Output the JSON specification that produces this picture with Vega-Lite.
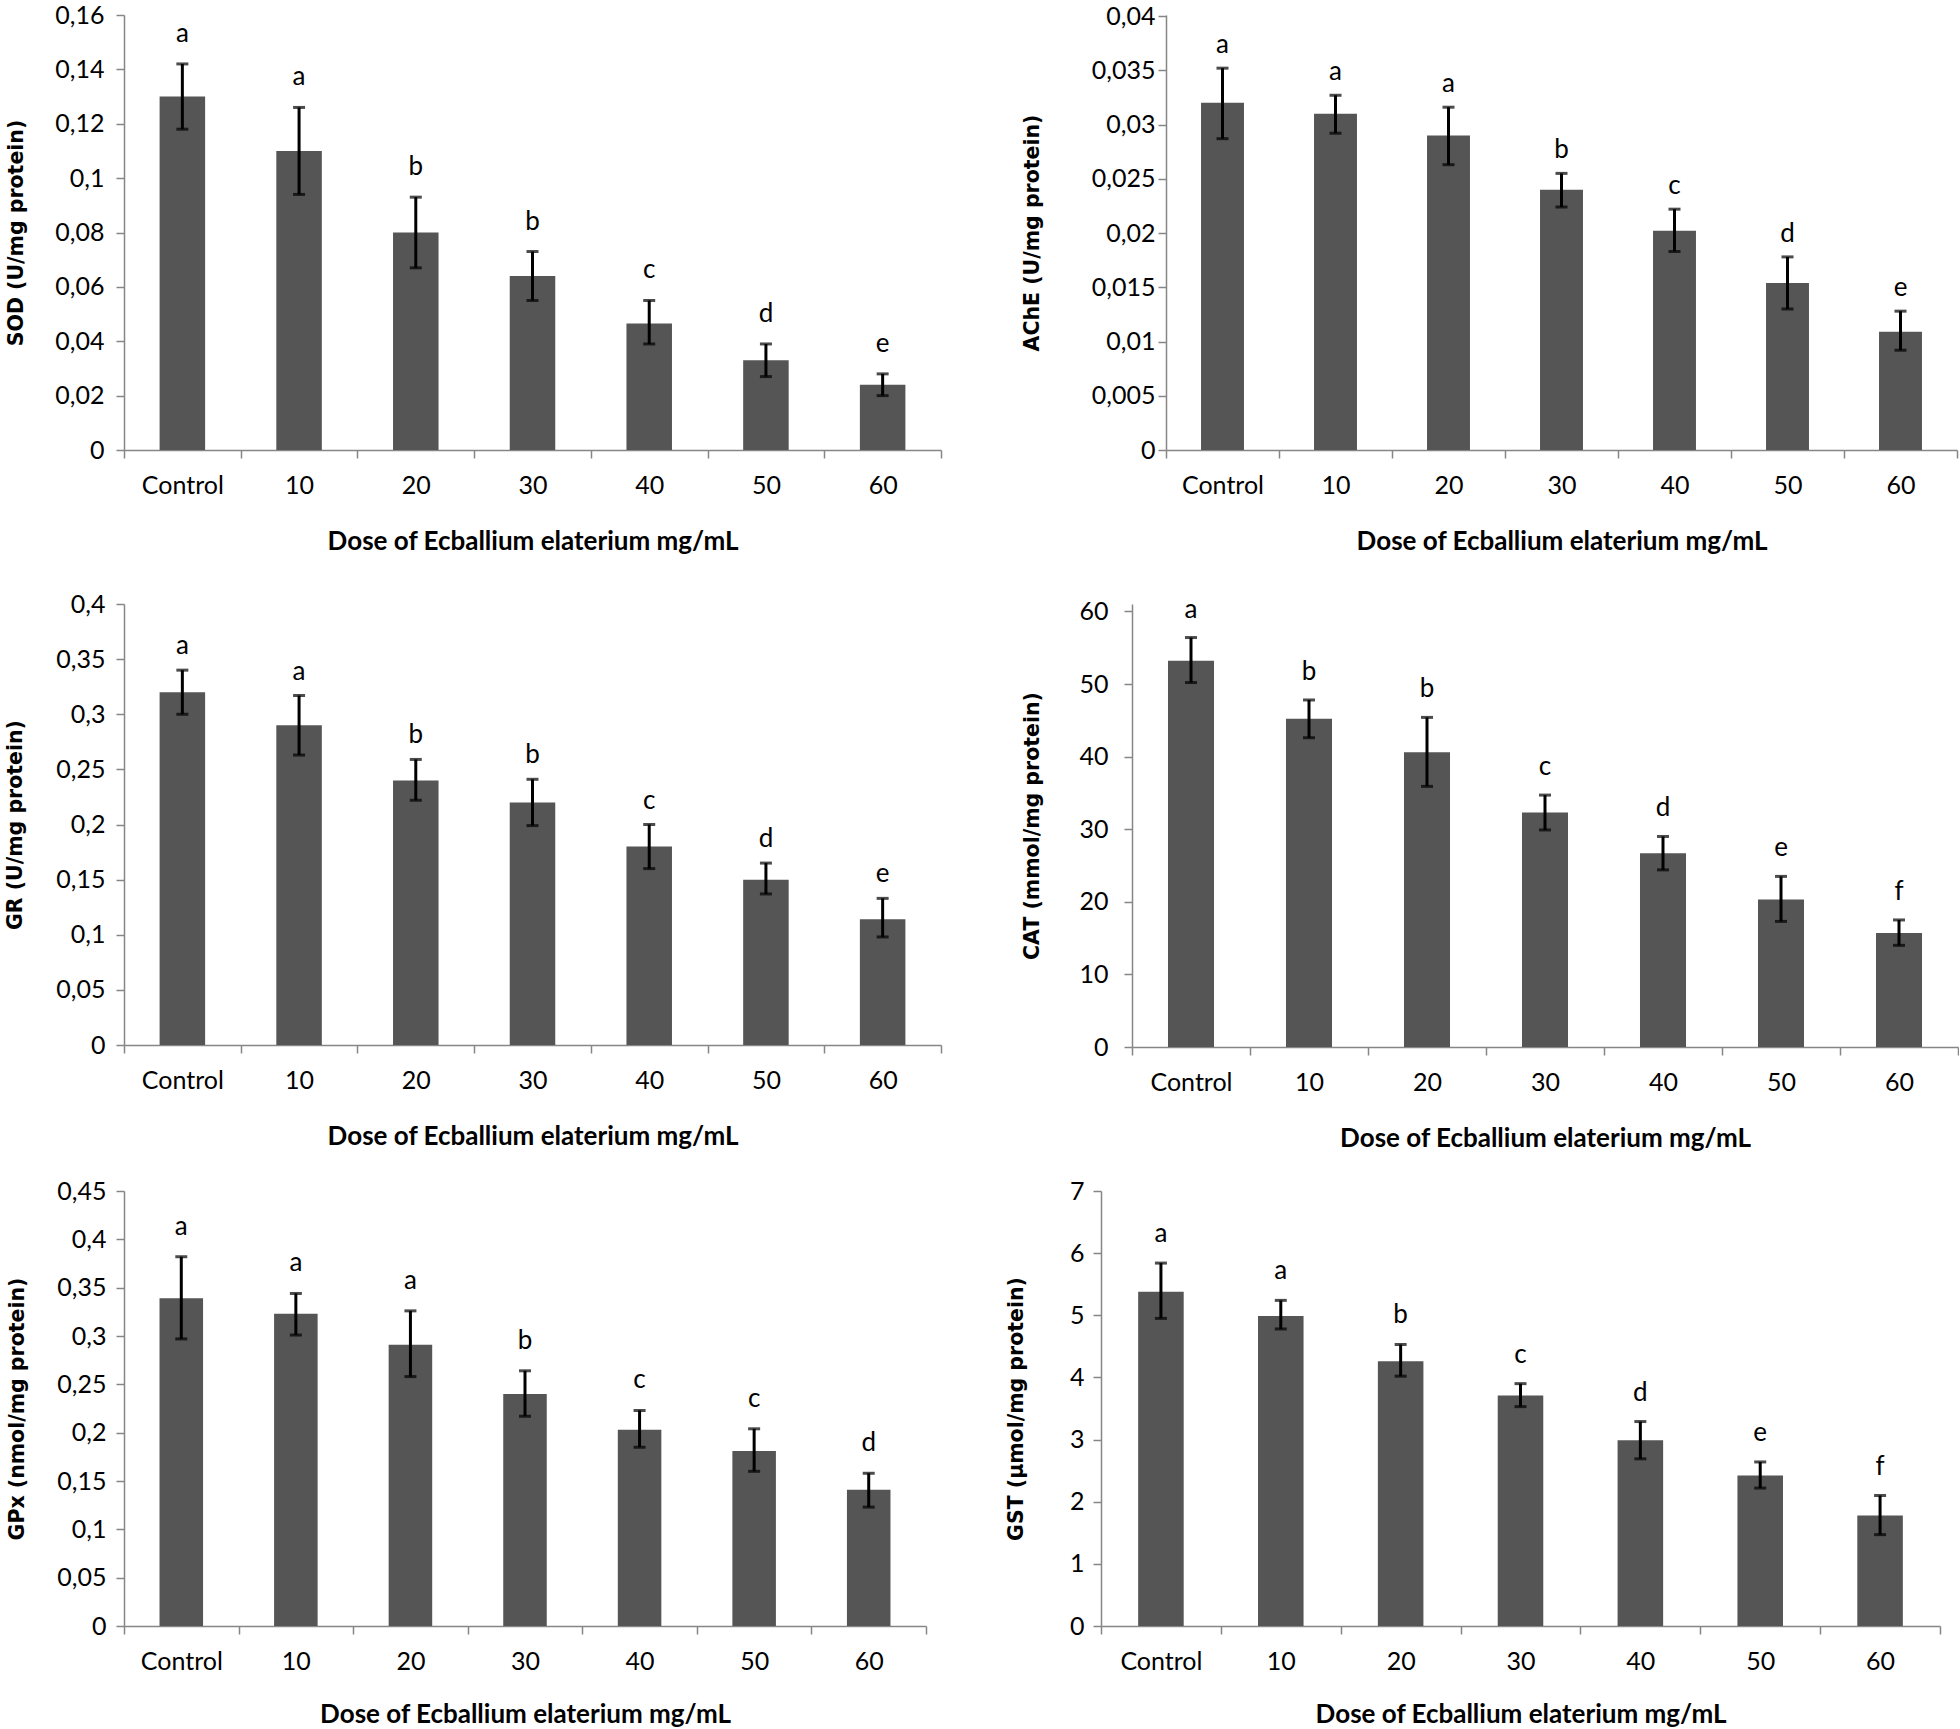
{
  "$schema": "https://vega.github.io/schema/vega-lite/v6.json",
  "padding": {"left": 5, "top": 3, "right": 0, "bottom": 0},
  "background": "white",
  "datasets": {
    "enz": [
      {"panel": "SOD", "dose": "Control", "mean": 0.13, "lo": 0.118, "hi": 0.142, "letter": "a"},
      {"panel": "SOD", "dose": "10", "mean": 0.11, "lo": 0.094, "hi": 0.126, "letter": "a"},
      {"panel": "SOD", "dose": "20", "mean": 0.08, "lo": 0.067, "hi": 0.093, "letter": "b"},
      {"panel": "SOD", "dose": "30", "mean": 0.064, "lo": 0.055, "hi": 0.073, "letter": "b"},
      {"panel": "SOD", "dose": "40", "mean": 0.0465, "lo": 0.039, "hi": 0.055, "letter": "c"},
      {"panel": "SOD", "dose": "50", "mean": 0.033, "lo": 0.027, "hi": 0.039, "letter": "d"},
      {"panel": "SOD", "dose": "60", "mean": 0.024, "lo": 0.02, "hi": 0.028, "letter": "e"},
      {"panel": "AChE", "dose": "Control", "mean": 0.032, "lo": 0.0287, "hi": 0.0352, "letter": "a"},
      {"panel": "AChE", "dose": "10", "mean": 0.031, "lo": 0.0292, "hi": 0.0327, "letter": "a"},
      {"panel": "AChE", "dose": "20", "mean": 0.029, "lo": 0.0263, "hi": 0.0316, "letter": "a"},
      {"panel": "AChE", "dose": "30", "mean": 0.024, "lo": 0.0224, "hi": 0.0255, "letter": "b"},
      {"panel": "AChE", "dose": "40", "mean": 0.0202, "lo": 0.0183, "hi": 0.0222, "letter": "c"},
      {"panel": "AChE", "dose": "50", "mean": 0.0154, "lo": 0.013, "hi": 0.0178, "letter": "d"},
      {"panel": "AChE", "dose": "60", "mean": 0.0109, "lo": 0.0092, "hi": 0.0128, "letter": "e"},
      {"panel": "GR", "dose": "Control", "mean": 0.32, "lo": 0.3, "hi": 0.34, "letter": "a"},
      {"panel": "GR", "dose": "10", "mean": 0.29, "lo": 0.263, "hi": 0.317, "letter": "a"},
      {"panel": "GR", "dose": "20", "mean": 0.24, "lo": 0.222, "hi": 0.259, "letter": "b"},
      {"panel": "GR", "dose": "30", "mean": 0.22, "lo": 0.199, "hi": 0.241, "letter": "b"},
      {"panel": "GR", "dose": "40", "mean": 0.18, "lo": 0.16, "hi": 0.2, "letter": "c"},
      {"panel": "GR", "dose": "50", "mean": 0.15, "lo": 0.137, "hi": 0.165, "letter": "d"},
      {"panel": "GR", "dose": "60", "mean": 0.114, "lo": 0.098, "hi": 0.133, "letter": "e"},
      {"panel": "CAT", "dose": "Control", "mean": 53.2, "lo": 50.2, "hi": 56.4, "letter": "a"},
      {"panel": "CAT", "dose": "10", "mean": 45.2, "lo": 42.6, "hi": 47.8, "letter": "b"},
      {"panel": "CAT", "dose": "20", "mean": 40.6, "lo": 35.9, "hi": 45.4, "letter": "b"},
      {"panel": "CAT", "dose": "30", "mean": 32.3, "lo": 29.9, "hi": 34.7, "letter": "c"},
      {"panel": "CAT", "dose": "40", "mean": 26.7, "lo": 24.4, "hi": 29.0, "letter": "d"},
      {"panel": "CAT", "dose": "50", "mean": 20.3, "lo": 17.3, "hi": 23.5, "letter": "e"},
      {"panel": "CAT", "dose": "60", "mean": 15.7, "lo": 14.0, "hi": 17.5, "letter": "f"},
      {"panel": "GPx", "dose": "Control", "mean": 0.339, "lo": 0.297, "hi": 0.382, "letter": "a"},
      {"panel": "GPx", "dose": "10", "mean": 0.323, "lo": 0.301, "hi": 0.344, "letter": "a"},
      {"panel": "GPx", "dose": "20", "mean": 0.291, "lo": 0.258, "hi": 0.326, "letter": "a"},
      {"panel": "GPx", "dose": "30", "mean": 0.24, "lo": 0.217, "hi": 0.264, "letter": "b"},
      {"panel": "GPx", "dose": "40", "mean": 0.203, "lo": 0.185, "hi": 0.223, "letter": "c"},
      {"panel": "GPx", "dose": "50", "mean": 0.181, "lo": 0.16, "hi": 0.204, "letter": "c"},
      {"panel": "GPx", "dose": "60", "mean": 0.141, "lo": 0.123, "hi": 0.158, "letter": "d"},
      {"panel": "GST", "dose": "Control", "mean": 5.38, "lo": 4.95, "hi": 5.84, "letter": "a"},
      {"panel": "GST", "dose": "10", "mean": 4.99, "lo": 4.78, "hi": 5.24, "letter": "a"},
      {"panel": "GST", "dose": "20", "mean": 4.26, "lo": 4.02, "hi": 4.53, "letter": "b"},
      {"panel": "GST", "dose": "30", "mean": 3.71, "lo": 3.53, "hi": 3.9, "letter": "c"},
      {"panel": "GST", "dose": "40", "mean": 2.99, "lo": 2.69, "hi": 3.29, "letter": "d"},
      {"panel": "GST", "dose": "50", "mean": 2.42, "lo": 2.22, "hi": 2.64, "letter": "e"},
      {"panel": "GST", "dose": "60", "mean": 1.78, "lo": 1.47, "hi": 2.1, "letter": "f"}
    ]
  },
  "data": {"name": "enz"},
  "spacing": 38,
  "align": "none",
  "vconcat": [
    {
      "hconcat": [
        {
          "width": 817, "height": 435,
          "transform": [{"filter": "datum.panel === 'SOD'"}],
          "encoding": {"x": {"field": "dose", "type": "nominal", "sort": ["Control","10","20","30","40","50","60"], "scale": {"paddingInner": 0, "paddingOuter": 0}, "axis": {"title": "Dose of Ecballium elaterium mg/mL", "titlePadding": 41}}},
          "layer": [
            {"mark": {"type": "bar", "color": "#555555", "width": {"band": 0.39}}, "encoding": {"y": {"field": "mean", "type": "quantitative", "title": "SOD (U/mg protein)", "scale": {"domain": [0, 0.16], "nice": false}, "axis": {"values": [0,0.02,0.04,0.06,0.08,0.1,0.12,0.14,0.16], "format": ".3~f", "minExtent": 98, "maxExtent": 98, "labelPadding": 12}}}},
            {"mark": {"type": "rule", "color": "black", "strokeWidth": 3}, "encoding": {"y": {"field": "lo", "type": "quantitative", "title": "SOD (U/mg protein)"}, "y2": {"field": "hi"}}},
            {"mark": {"type": "tick", "color": "black", "thickness": 3, "size": 12}, "encoding": {"y": {"field": "lo", "type": "quantitative", "title": "SOD (U/mg protein)"}}},
            {"mark": {"type": "tick", "color": "black", "thickness": 3, "size": 12}, "encoding": {"y": {"field": "hi", "type": "quantitative", "title": "SOD (U/mg protein)"}}},
            {"mark": {"type": "text", "dy": -30, "baseline": "middle", "font": "Lato", "fontSize": 26, "color": "black"}, "encoding": {"y": {"field": "hi", "type": "quantitative", "title": "SOD (U/mg protein)"}, "text": {"field": "letter"}}}
          ]
        },
        {
          "width": 791, "height": 435,
          "transform": [{"filter": "datum.panel === 'AChE'"}],
          "encoding": {"x": {"field": "dose", "type": "nominal", "sort": ["Control","10","20","30","40","50","60"], "scale": {"paddingInner": 0, "paddingOuter": 0}, "axis": {"title": "Dose of Ecballium elaterium mg/mL", "titlePadding": 41}}},
          "layer": [
            {"mark": {"type": "bar", "color": "#555555", "width": {"band": 0.38}}, "encoding": {"y": {"field": "mean", "type": "quantitative", "title": "AChE (U/mg protein)", "scale": {"domain": [0, 0.0401], "nice": false}, "axis": {"values": [0,0.005,0.01,0.015,0.02,0.025,0.03,0.035,0.04], "format": ".3~f", "minExtent": 124, "maxExtent": 124, "labelPadding": 3}}}},
            {"mark": {"type": "rule", "color": "black", "strokeWidth": 3}, "encoding": {"y": {"field": "lo", "type": "quantitative", "title": "AChE (U/mg protein)"}, "y2": {"field": "hi"}}},
            {"mark": {"type": "tick", "color": "black", "thickness": 3, "size": 12}, "encoding": {"y": {"field": "lo", "type": "quantitative", "title": "AChE (U/mg protein)"}}},
            {"mark": {"type": "tick", "color": "black", "thickness": 3, "size": 12}, "encoding": {"y": {"field": "hi", "type": "quantitative", "title": "AChE (U/mg protein)"}}},
            {"mark": {"type": "text", "dy": -23, "baseline": "middle", "font": "Lato", "fontSize": 26, "color": "black"}, "encoding": {"y": {"field": "hi", "type": "quantitative", "title": "AChE (U/mg protein)"}, "text": {"field": "letter"}}}
          ]
        }
      ],
      "spacing": 80,
      "align": "none"
    },
    {
      "spacing": 28,
      "align": "none",
      "vconcat": [
        {
          "spacing": 80,
          "align": "none",
          "hconcat": [
            {
              "width": 817, "height": 441,
              "transform": [{"filter": "datum.panel === 'GR'"}],
              "encoding": {"x": {"field": "dose", "type": "nominal", "sort": ["Control","10","20","30","40","50","60"], "scale": {"paddingInner": 0, "paddingOuter": 0}, "axis": {"title": "Dose of Ecballium elaterium mg/mL", "titlePadding": 41}}},
              "layer": [
                {"mark": {"type": "bar", "color": "#555555", "width": {"band": 0.39}}, "encoding": {"y": {"field": "mean", "type": "quantitative", "title": "GR (U/mg protein)", "scale": {"domain": [0, 0.4], "nice": false}, "axis": {"values": [0,0.05,0.1,0.15,0.2,0.25,0.3,0.35,0.4], "format": ".3~f", "minExtent": 99, "maxExtent": 99, "labelPadding": 11}}}},
                {"mark": {"type": "rule", "color": "black", "strokeWidth": 3}, "encoding": {"y": {"field": "lo", "type": "quantitative", "title": "GR (U/mg protein)"}, "y2": {"field": "hi"}}},
                {"mark": {"type": "tick", "color": "black", "thickness": 3, "size": 12}, "encoding": {"y": {"field": "lo", "type": "quantitative", "title": "GR (U/mg protein)"}}},
                {"mark": {"type": "tick", "color": "black", "thickness": 3, "size": 12}, "encoding": {"y": {"field": "hi", "type": "quantitative", "title": "GR (U/mg protein)"}}},
                {"mark": {"type": "text", "dy": -24, "baseline": "middle", "font": "Lato", "fontSize": 26, "color": "black"}, "encoding": {"y": {"field": "hi", "type": "quantitative", "title": "GR (U/mg protein)"}, "text": {"field": "letter"}}}
              ]
            },
            {
              "width": 826, "height": 443,
              "transform": [{"filter": "datum.panel === 'CAT'"}],
              "encoding": {"x": {"field": "dose", "type": "nominal", "sort": ["Control","10","20","30","40","50","60"], "scale": {"paddingInner": 0, "paddingOuter": 0}, "axis": {"title": "Dose of Ecballium elaterium mg/mL", "titlePadding": 41}}},
              "layer": [
                {"mark": {"type": "bar", "color": "#555555", "width": {"band": 0.39}}, "encoding": {"y": {"field": "mean", "type": "quantitative", "title": "CAT (mmol/mg protein)", "scale": {"domain": [0, 61.02], "nice": false}, "axis": {"values": [0,10,20,30,40,50,60], "format": "d", "minExtent": 90, "maxExtent": 90, "labelPadding": 16}}}},
                {"mark": {"type": "rule", "color": "black", "strokeWidth": 3}, "encoding": {"y": {"field": "lo", "type": "quantitative", "title": "CAT (mmol/mg protein)"}, "y2": {"field": "hi"}}},
                {"mark": {"type": "tick", "color": "black", "thickness": 3, "size": 12}, "encoding": {"y": {"field": "lo", "type": "quantitative", "title": "CAT (mmol/mg protein)"}}},
                {"mark": {"type": "tick", "color": "black", "thickness": 3, "size": 12}, "encoding": {"y": {"field": "hi", "type": "quantitative", "title": "CAT (mmol/mg protein)"}}},
                {"mark": {"type": "text", "dy": -28, "baseline": "middle", "font": "Lato", "fontSize": 26, "color": "black"}, "encoding": {"y": {"field": "hi", "type": "quantitative", "title": "CAT (mmol/mg protein)"}, "text": {"field": "letter"}}}
              ]
            }
          ]
        },
        {
          "spacing": 79,
          "align": "none",
          "hconcat": [
            {
              "width": 802, "height": 435,
              "transform": [{"filter": "datum.panel === 'GPx'"}],
              "encoding": {"x": {"field": "dose", "type": "nominal", "sort": ["Control","10","20","30","40","50","60"], "scale": {"paddingInner": 0, "paddingOuter": 0}, "axis": {"title": "Dose of Ecballium elaterium mg/mL", "titlePadding": 38}}},
              "layer": [
                {"mark": {"type": "bar", "color": "#555555", "width": {"band": 0.38}}, "encoding": {"y": {"field": "mean", "type": "quantitative", "title": "GPx (nmol/mg protein)", "scale": {"domain": [0, 0.45], "nice": false}, "axis": {"values": [0,0.05,0.1,0.15,0.2,0.25,0.3,0.35,0.4,0.45], "format": ".3~f", "minExtent": 97, "maxExtent": 97, "labelPadding": 10}}}},
                {"mark": {"type": "rule", "color": "black", "strokeWidth": 3}, "encoding": {"y": {"field": "lo", "type": "quantitative", "title": "GPx (nmol/mg protein)"}, "y2": {"field": "hi"}}},
                {"mark": {"type": "tick", "color": "black", "thickness": 3, "size": 12}, "encoding": {"y": {"field": "lo", "type": "quantitative", "title": "GPx (nmol/mg protein)"}}},
                {"mark": {"type": "tick", "color": "black", "thickness": 3, "size": 12}, "encoding": {"y": {"field": "hi", "type": "quantitative", "title": "GPx (nmol/mg protein)"}}},
                {"mark": {"type": "text", "dy": -30, "baseline": "middle", "font": "Lato", "fontSize": 26, "color": "black"}, "encoding": {"y": {"field": "hi", "type": "quantitative", "title": "GPx (nmol/mg protein)"}, "text": {"field": "letter"}}}
              ]
            },
            {
              "width": 839, "height": 435,
              "transform": [{"filter": "datum.panel === 'GST'"}],
              "encoding": {"x": {"field": "dose", "type": "nominal", "sort": ["Control","10","20","30","40","50","60"], "scale": {"paddingInner": 0, "paddingOuter": 0}, "axis": {"title": "Dose of Ecballium elaterium mg/mL", "titlePadding": 38}}},
              "layer": [
                {"mark": {"type": "bar", "color": "#555555", "width": {"band": 0.38}}, "encoding": {"y": {"field": "mean", "type": "quantitative", "title": "GST (µmol/mg protein)", "scale": {"domain": [0, 7], "nice": false}, "axis": {"values": [0,1,2,3,4,5,6,7], "format": "d", "minExtent": 75, "maxExtent": 75, "labelPadding": 9}}}},
                {"mark": {"type": "rule", "color": "black", "strokeWidth": 3}, "encoding": {"y": {"field": "lo", "type": "quantitative", "title": "GST (µmol/mg protein)"}, "y2": {"field": "hi"}}},
                {"mark": {"type": "tick", "color": "black", "thickness": 3, "size": 12}, "encoding": {"y": {"field": "lo", "type": "quantitative", "title": "GST (µmol/mg protein)"}}},
                {"mark": {"type": "tick", "color": "black", "thickness": 3, "size": 12}, "encoding": {"y": {"field": "hi", "type": "quantitative", "title": "GST (µmol/mg protein)"}}},
                {"mark": {"type": "text", "dy": -29, "baseline": "middle", "font": "Lato", "fontSize": 26, "color": "black"}, "encoding": {"y": {"field": "hi", "type": "quantitative", "title": "GST (µmol/mg protein)"}, "text": {"field": "letter"}}}
              ]
            }
          ]
        }
      ]
    }
  ],
  "config": {
    "view": {"stroke": null},
    "locale": {"number": {"decimal": ",", "thousands": ".", "grouping": [3], "currency": ["", " €"]}},
    "axis": {
      "domainColor": "#868686",
      "domainWidth": 1.5,
      "tickColor": "#868686",
      "tickWidth": 1.5,
      "tickSize": 8,
      "grid": false,
      "labelFont": "Lato",
      "labelFontSize": 25,
      "labelColor": "#000000",
      "titleColor": "#000000"
    },
    "axisX": {
      "tickBand": "extent",
      "labelAngle": 0,
      "labelBaseline": "middle",
      "labelPadding": 27.5,
      "minExtent": 50,
      "maxExtent": 50,
      "titleFont": "Lato",
      "titleFontSize": 26,
      "titleFontWeight": "bold",
      "titleBaseline": "middle"
    },
    "axisY": {
      "titleFont": "DejaVu Sans",
      "titleFontSize": 20.5,
      "titleFontWeight": "bold",
      "titlePadding": 0
    }
  }
}
